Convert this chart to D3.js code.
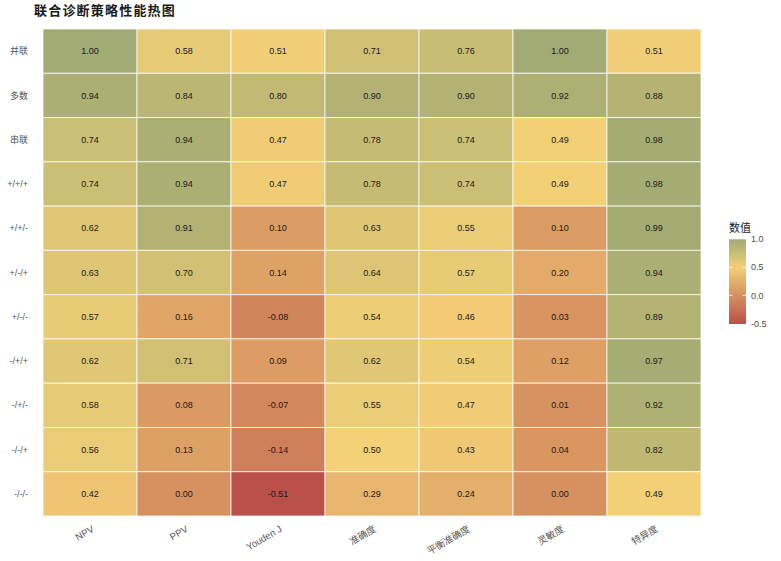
<!DOCTYPE html>
<html><head><meta charset="utf-8">
<script src="https://cdn.jsdelivr.net/npm/d3@7"></script>
<style>body{margin:0;background:#fff}svg{display:block}text{font-family:"Liberation Sans","Noto Sans CJK SC",Arial,sans-serif}</style>
</head><body>
<script>
const metrics = ["NPV","PPV","Youden J","准确度","平衡准确度","灵敏度","特异度"];
const strategies = ["并联","多数","串联","+/+/+","+/+/-","+/-/+","+/-/-","-/+/+","-/+/-","-/-/+","-/-/-"];
const values = [
  [1.00,0.58,0.51,0.71,0.76,1.00,0.51],
  [0.94,0.84,0.80,0.90,0.90,0.92,0.88],
  [0.74,0.94,0.47,0.78,0.74,0.49,0.98],
  [0.74,0.94,0.47,0.78,0.74,0.49,0.98],
  [0.62,0.91,0.10,0.63,0.55,0.10,0.99],
  [0.63,0.70,0.14,0.64,0.57,0.20,0.94],
  [0.57,0.16,-0.08,0.54,0.46,0.03,0.89],
  [0.62,0.71,0.09,0.62,0.54,0.12,0.97],
  [0.58,0.08,-0.07,0.55,0.47,0.01,0.92],
  [0.56,0.13,-0.14,0.50,0.43,0.04,0.82],
  [0.42,0.00,-0.51,0.29,0.24,0.00,0.49]
];
const legendTicks = [1.0,0.5,0.0,-0.5];
const colorStops = ["#B5473F","#F3CD6F","#9CA66B"];

const W=781,H=561;
const m={l:43,t:29,r:701,b:516};
const svg=d3.select("body").append("svg").attr("width",W).attr("height",H);
const x=d3.scaleBand().domain(metrics).range([m.l,m.r]);
const y=d3.scaleBand().domain(strategies).range([m.t,m.b]);
const flat=values.flat();
const vmin=d3.min(flat), vmax=d3.max(flat);
const color=d3.scaleLinear().domain([vmin,0.5,vmax]).range(colorStops).clamp(true);

const cells=[];
strategies.forEach((s,i)=>metrics.forEach((k,j)=>cells.push({s,k,v:values[i][j]})));

svg.append("text").attr("x",34).attr("y",15).attr("font-size",13).attr("letter-spacing",1.2).attr("font-weight","bold").attr("fill","#1a1a1a").text("联合诊断策略性能热图");

const g=svg.append("g");
g.selectAll("rect").data(cells).join("rect")
  .attr("x",d=>x(d.k)).attr("y",d=>y(d.s))
  .attr("width",x.bandwidth()).attr("height",y.bandwidth())
  .attr("fill",d=>color(d.v)).attr("fill-opacity",0.95)
  .attr("stroke","#fff").attr("stroke-opacity",0.75).attr("stroke-width",1);
g.selectAll("text").data(cells).join("text")
  .attr("x",d=>x(d.k)+x.bandwidth()/2).attr("y",d=>y(d.s)+y.bandwidth()/2)
  .attr("dy","0.35em").attr("text-anchor","middle").attr("font-size",9).attr("fill","#1a1a1a")
  .text(d=>d.v.toFixed(2));

// y labels
svg.append("g").selectAll("text").data(strategies).join("text")
  .attr("x",28).attr("y",d=>y(d)+y.bandwidth()/2).attr("dy","0.35em")
  .attr("text-anchor","end").attr("font-size",9).attr("fill","#555").text(d=>d);
// x labels
svg.append("g").selectAll("text").data(metrics).join("text")
  .attr("transform",d=>`translate(${x(d)+x.bandwidth()/2+3},${m.b+12}) rotate(-30)`)
  .attr("text-anchor","end").attr("font-size",9.5).attr("fill","#555").attr("dy","0.35em").text(d=>d);

// legend
const lx=729, lw=17, lt=239.3, lb=324;
const ly=d3.scaleLinear().domain([vmin,vmax]).range([lb,lt]);
const defs=svg.append("defs");
const grad=defs.append("linearGradient").attr("id","lg").attr("x1",0).attr("y1",1).attr("x2",0).attr("y2",0);
d3.range(0,1.0001,0.05).forEach(t=>{
  grad.append("stop").attr("offset",t).attr("stop-color",color(vmin+t*(vmax-vmin)));
});
svg.append("text").attr("x",lx).attr("y",232).attr("font-size",11).attr("fill","#1a1a1a").text("数值");
svg.append("rect").attr("x",lx).attr("y",lt).attr("width",lw).attr("height",lb-lt).attr("fill","url(#lg)").attr("fill-opacity",0.95);
const lg=svg.append("g");
legendTicks.forEach(t=>{
  const yy=ly(t);
  if(yy>lt+1 && yy<lb-1){
    lg.append("line").attr("x1",lx).attr("x2",lx+3.5).attr("y1",yy).attr("y2",yy).attr("stroke","#fff").attr("stroke-opacity",0.8);
    lg.append("line").attr("x1",lx+lw-3.5).attr("x2",lx+lw).attr("y1",yy).attr("y2",yy).attr("stroke","#fff").attr("stroke-opacity",0.8);
  }
  lg.append("text").attr("x",lx+lw+5).attr("y",yy).attr("dy","0.35em").attr("font-size",9).attr("fill","#4d4d4d").text(t.toFixed(1));
});
</script>
</body></html>
